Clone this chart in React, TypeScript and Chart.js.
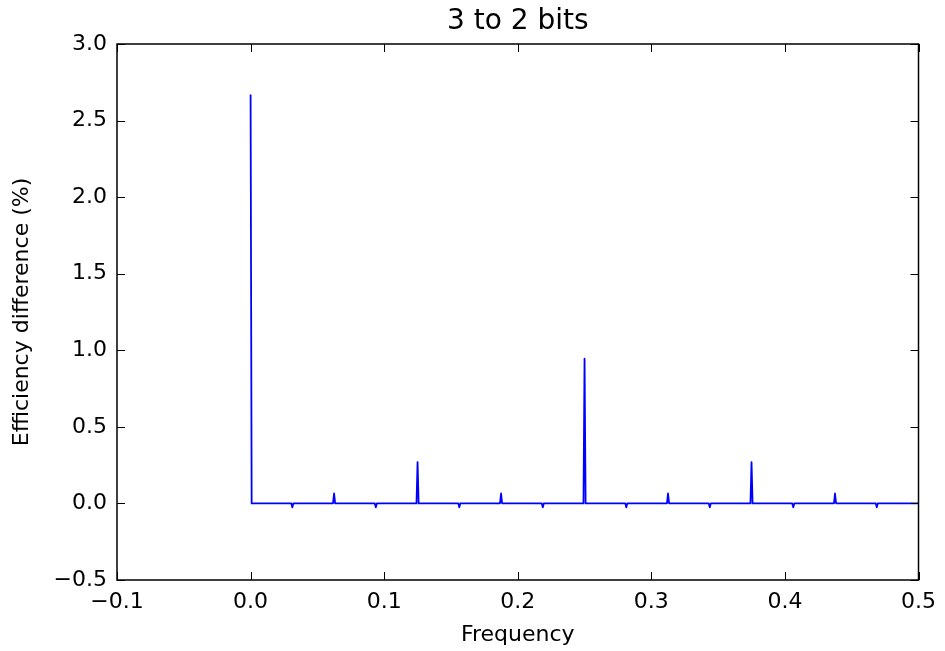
import React, { useEffect, useRef } from "react";
import { Chart, registerables } from "chart.js";

Chart.register(...registerables);

// Frequency (x) and efficiency difference in % (y)
const freq = [
  0, 0.0008,
  0.0305, 0.03125, 0.032,
  0.0617, 0.0625, 0.0633,
  0.093, 0.09375, 0.0945,
  0.1242, 0.125, 0.1258,
  0.1555, 0.15625, 0.157,
  0.1867, 0.1875, 0.1883,
  0.218, 0.21875, 0.2195,
  0.2492, 0.25, 0.2508,
  0.2805, 0.28125, 0.282,
  0.3117, 0.3125, 0.3133,
  0.343, 0.34375, 0.3445,
  0.3742, 0.375, 0.3758,
  0.4055, 0.40625, 0.407,
  0.4367, 0.4375, 0.4383,
  0.468, 0.46875, 0.4695,
  0.5,
];
const diff = [
  2.67, 0,
  0, -0.025, 0,
  0, 0.065, 0,
  0, -0.025, 0,
  0, 0.27, 0,
  0, -0.025, 0,
  0, 0.065, 0,
  0, -0.025, 0,
  0, 0.945, 0,
  0, -0.025, 0,
  0, 0.065, 0,
  0, -0.025, 0,
  0, 0.27, 0,
  0, -0.025, 0,
  0, 0.065, 0,
  0, -0.025, 0,
  0,
];

const xTicks = [-0.1, 0.0, 0.1, 0.2, 0.3, 0.4, 0.5];
const yTicks = [-0.5, 0.0, 0.5, 1.0, 1.5, 2.0, 2.5, 3.0];
const titleText = "3 to 2 bits";
const xLabel = "Frequency";
const yLabel = "Efficiency difference (%)";

const FONT = "'DejaVu Sans', sans-serif";

const fmt = (v: number) => {
  const s = Math.abs(v).toFixed(1);
  return v < -1e-9 ? "\u2212" + s : s;
};

const framePlugin = {
  id: "frame",
  afterDatasetsDraw(chart: any) {
    const { ctx, chartArea } = chart;
    const { left, right, top, bottom } = chartArea;
    const xs = chart.scales.x;
    const ys = chart.scales.y;
    const len = 8;
    ctx.save();
    ctx.strokeStyle = "#000";
    ctx.lineWidth = 1;
    ctx.beginPath();
    xTicks.forEach((v) => {
      const px = Math.round(xs.getPixelForValue(v)) + 0.5;
      ctx.moveTo(px, bottom);
      ctx.lineTo(px, bottom - len);
      ctx.moveTo(px, top);
      ctx.lineTo(px, top + len);
    });
    yTicks.forEach((v) => {
      const py = Math.round(ys.getPixelForValue(v)) + 0.5;
      ctx.moveTo(left, py);
      ctx.lineTo(left + len, py);
      ctx.moveTo(right, py);
      ctx.lineTo(right - len, py);
    });
    ctx.stroke();
    ctx.lineWidth = 1.5;
    ctx.strokeRect(left, top, right - left, bottom - top);
    ctx.restore();
  },
};

export default function App() {
  const ref = useRef<HTMLCanvasElement | null>(null);

  useEffect(() => {
    if (!ref.current) return;
    const points = freq.map((f, i) => ({ x: f, y: diff[i] }));
    const chart = new Chart(ref.current, {
      type: "line",
      data: {
        datasets: [
          {
            data: points,
            borderColor: "#0000ff",
            borderWidth: 1.8,
            borderJoinStyle: "round",
            pointRadius: 0,
            fill: false,
            tension: 0,
          },
        ],
      },
      options: {
        animation: false,
        responsive: true,
        maintainAspectRatio: false,
        parsing: false as any,
        layout: { padding: { left: 0, right: 26, top: 0, bottom: 0 } },
        plugins: {
          legend: { display: false },
          tooltip: { enabled: false },
          title: {
            display: true,
            fullSize: false,
            text: titleText,
            color: "#000",
            font: { family: FONT, size: 28, weight: "normal" },
            padding: { top: 4.5, bottom: 5.9 },
          },
        },
        scales: {
          x: {
            type: "linear",
            min: -0.1,
            max: 0.5,
            afterBuildTicks: (s: any) => {
              s.ticks = xTicks.map((v) => ({ value: v }));
            },
            afterFit: (s: any) => {
              s.height = 71;
            },
            grid: { display: false, drawTicks: false },
            border: { display: false },
            ticks: {
              color: "#000",
              font: { family: FONT, size: 22 },
              padding: 9,
              maxRotation: 0,
              autoSkip: false,
              callback: (v: any) => fmt(Number(v)),
            },
            title: {
              display: true,
              text: xLabel,
              color: "#000",
              font: { family: FONT, size: 22 },
              padding: { top: 0, bottom: 2.5 },
            },
          },
          y: {
            type: "linear",
            min: -0.5,
            max: 3.0,
            afterBuildTicks: (s: any) => {
              s.ticks = yTicks.map((v) => ({ value: v }));
            },
            afterFit: (s: any) => {
              s.width = 117;
            },
            grid: { display: false, drawTicks: false },
            border: { display: false },
            ticks: {
              color: "#000",
              font: { family: FONT, size: 22 },
              padding: 10,
              autoSkip: false,
              callback: (v: any) => fmt(Number(v)),
            },
            title: {
              display: true,
              text: yLabel,
              color: "#000",
              font: { family: FONT, size: 22 },
              padding: { top: 9, bottom: 0 },
            },
          },
        },
      },
      plugins: [framePlugin],
    });
    return () => chart.destroy();
  }, []);

  return (
    <div
      style={{
        position: "absolute",
        left: 0,
        top: 0,
        width: 945,
        height: 651,
        background: "#fff",
      }}
    >
      <canvas ref={ref} />
    </div>
  );
}
